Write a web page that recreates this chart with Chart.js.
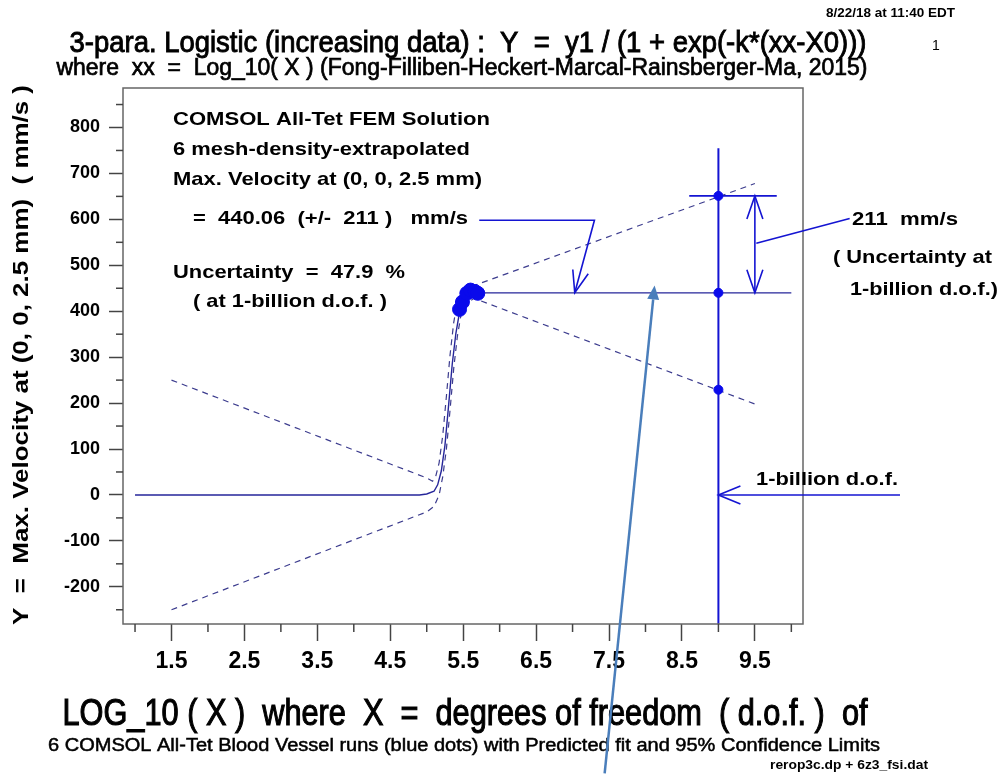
<!DOCTYPE html>
<html>
<head>
<meta charset="utf-8">
<title>3-para. Logistic fit</title>
<script src="https://cdn.jsdelivr.net/npm/chart.js@4.4.1/dist/chart.umd.min.js"></script>
<style>
  html, body { margin: 0; padding: 0; background: #fff; }
  #wrap { width: 1000px; height: 774px; }
</style>
</head>
<body>
<div id="wrap"><canvas id="grafico" width="1000" height="774"></canvas></div>
<script>
// six COMSOL runs: log10(d.o.f.) and max velocity (mm/s)
const runsLogDof = [5.45, 5.49, 5.55, 5.60, 5.66, 5.70];
const runsVel = [404, 420, 439, 446, 443, 439];

// fitted logistic curve
const fitX = [1.0, 4.9, 5.0, 5.1, 5.15, 5.2, 5.25, 5.3, 5.35, 5.4, 5.45, 5.5, 5.6, 5.7, 10.0];
const fitY = [0, 0, 2, 8, 22, 52, 108, 195, 285, 352, 398, 422, 436, 440, 440];

// 95% confidence limits
const upperX = [1.5, 5.0, 5.08, 5.12, 5.17, 5.22, 5.27, 5.32, 5.37, 5.42, 5.5, 5.65, 9.5];
const upperY = [250, 37, 30, 38, 70, 130, 215, 305, 375, 420, 445, 456, 678];
const lowerX = [1.5, 5.0, 5.1, 5.17, 5.22, 5.27, 5.32, 5.37, 5.42, 5.47, 5.55, 5.65, 9.5];
const lowerY = [-250, -37, -25, 0, 40, 100, 185, 275, 345, 392, 418, 428, 198];

// extrapolated value at 1-billion d.o.f.
const estimate = 440.06;
const uncertainty = 211;
const billionDof = 9;

// axes
const xRange = [0.835, 10.16];
const yRange = [-281, 886];
const xTickLabels = [1.5, 2.5, 3.5, 4.5, 5.5, 6.5, 7.5, 8.5, 9.5];
const xMinorTicks = [1, 2, 3, 4, 5, 6, 7, 8, 9, 10];
const yTickLabels = [-200, -100, 0, 100, 200, 300, 400, 500, 600, 700, 800];
const yMinorTicks = [-250, -150, -50, 50, 150, 250, 350, 450, 550, 650, 750, 850];

const NARROW = "'Liberation Sans Narrow', 'Liberation Sans', Arial, sans-serif";
const ARIAL = "'Liberation Sans', Arial, sans-serif";
const BLUE = '#1414d2';

const pts = (xs, ys) => xs.map((x, i) => ({ x: x, y: ys[i] }));

// text squeezed or stretched horizontally to a given width
function drawText(ctx, text, x, y, o) {
  ctx.save();
  ctx.font = (o.bold ? 'bold ' : '') + o.size + 'px ' + (o.family || ARIAL);
  ctx.fillStyle = '#000';
  ctx.strokeStyle = '#000';
  ctx.textBaseline = 'middle';
  ctx.textAlign = o.align || 'left';
  const sx = o.width ? o.width / ctx.measureText(text).width : 1;
  ctx.translate(x, y);
  if (o.rotate) ctx.rotate(o.rotate);
  ctx.scale(sx, 1);
  ctx.fillText(text, 0, 0);
  if (o.heavy) {
    ctx.lineWidth = o.heavy;
    ctx.strokeText(text, 0, 0);
  }
  ctx.restore();
}

function openHead(ctx, tx, ty, fx, fy, len, half) {
  const a = Math.atan2(ty - fy, tx - fx);
  const bx = tx - len * Math.cos(a), by = ty - len * Math.sin(a);
  const nx = -Math.sin(a) * half, ny = Math.cos(a) * half;
  ctx.beginPath();
  ctx.moveTo(bx + nx, by + ny);
  ctx.lineTo(tx, ty);
  ctx.lineTo(bx - nx, by - ny);
  ctx.stroke();
}

function line(ctx, coords) {
  ctx.beginPath();
  coords.forEach((c, i) => i ? ctx.lineTo(c[0], c[1]) : ctx.moveTo(c[0], c[1]));
  ctx.stroke();
}

const extras = {
  id: 'extras',
  afterDraw(chart) {
    const ctx = chart.ctx;
    const xs = chart.scales.x, ys = chart.scales.y;
    const a = chart.chartArea;
    const px = v => xs.getPixelForValue(v);
    const py = v => ys.getPixelForValue(v);

    // frame
    ctx.save();
    ctx.strokeStyle = '#666';
    ctx.lineWidth = 1.5;
    ctx.strokeRect(a.left, a.top, a.right - a.left, a.bottom - a.top);

    // minor ticks
    ctx.strokeStyle = '#444';
    ctx.lineWidth = 1.5;
    xMinorTicks.forEach(v => line(ctx, [[px(v), a.bottom], [px(v), a.bottom + 8]]));
    yMinorTicks.forEach(v => line(ctx, [[a.left - 7, py(v)], [a.left, py(v)]]));

    // arrows and leaders
    ctx.strokeStyle = BLUE;
    ctx.lineWidth = 1.6;
    const hi = estimate + uncertainty;
    line(ctx, [[px(5.72), py(598)], [px(7.30), py(598)], [px(7.03), py(estimate)]]);
    openHead(ctx, px(7.03), py(estimate), px(7.30), py(598), 22, 8);
    line(ctx, [[px(9.5), py(hi)], [px(9.5), py(estimate)]]);
    openHead(ctx, px(9.5), py(hi), px(9.5), py(estimate), 23, 8);
    openHead(ctx, px(9.5), py(estimate), px(9.5), py(hi), 23, 8);
    line(ctx, [[px(9.52), py(548)], [px(10.8), py(602)]]);
    line(ctx, [[px(11.49), py(0)], [px(billionDof), py(0)]]);
    openHead(ctx, px(billionDof), py(0), px(11.49), py(0), 22, 9);
    ctx.restore();

    // titles
    drawText(ctx, '8/22/18 at 11:40 EDT', 955, 13, { size: 13, bold: true, family: NARROW, align: 'right', width: 129 });
    drawText(ctx, '1', 936, 46, { size: 14, family: NARROW, align: 'center' });
    drawText(ctx, '3-para. Logistic (increasing data) :  Y  =  y1 / (1 + exp(-k*(xx-X0)))', 468, 44,
      { size: 29, family: NARROW, align: 'center', width: 797, heavy: 0.9 });
    drawText(ctx, 'where  xx  =  Log_10( X ) (Fong-Filliben-Heckert-Marcal-Rainsberger-Ma, 2015)', 462, 69,
      { size: 23, family: NARROW, align: 'center', width: 811, heavy: 0.7 });
    drawText(ctx, 'Y  =  Max. Velocity at (0, 0, 2.5 mm)  ( mm/s )', 22, 355,
      { size: 22, bold: true, align: 'center', width: 540, rotate: -Math.PI / 2 });
    drawText(ctx, 'LOG_10 ( X )  where  X  =  degrees of freedom  ( d.o.f. )  of', 465, 715,
      { size: 36, family: NARROW, align: 'center', width: 805, heavy: 1.1 });
    drawText(ctx, '6 COMSOL All-Tet Blood Vessel runs (blue dots) with Predicted fit and 95% Confidence Limits', 464, 746,
      { size: 18, family: NARROW, align: 'center', width: 832, heavy: 0.5 });
    drawText(ctx, 'rerop3c.dp + 6z3_fsi.dat', 928, 765, { size: 13, bold: true, family: NARROW, align: 'right', width: 158 });

    // notes inside the plot
    const note = { size: 19, bold: true };
    drawText(ctx, 'COMSOL All-Tet FEM Solution', 173, 120, Object.assign({ width: 317 }, note));
    drawText(ctx, '6 mesh-density-extrapolated', 173, 150, Object.assign({ width: 297 }, note));
    drawText(ctx, 'Max. Velocity at (0, 0, 2.5 mm)', 173, 180, Object.assign({ width: 309 }, note));
    drawText(ctx, '=  440.06  (+/-  211 )   mm/s', 193, 219, Object.assign({ width: 275 }, note));
    drawText(ctx, 'Uncertainty  =  47.9  %', 173, 273, Object.assign({ width: 232 }, note));
    drawText(ctx, '( at 1-billion d.o.f. )', 193, 302, Object.assign({ width: 194 }, note));
    drawText(ctx, '211  mm/s', 852, 220, Object.assign({ width: 106 }, note));
    drawText(ctx, '( Uncertainty at', 833, 258, Object.assign({ width: 159 }, note));
    drawText(ctx, '1-billion d.o.f.)', 850, 290, Object.assign({ width: 148 }, note));
    drawText(ctx, '1-billion d.o.f.', 756, 480, Object.assign({ width: 142 }, note));

    // pointer drawn over the plot
    const tip = [px(8.125), py(456)], tail = [px(7.44), py(-606)];
    ctx.save();
    ctx.strokeStyle = '#4a7ebb';
    ctx.fillStyle = '#4a7ebb';
    ctx.lineWidth = 2.5;
    const ang = Math.atan2(tip[1] - tail[1], tip[0] - tail[0]);
    const bx = tip[0] - 14 * Math.cos(ang), by = tip[1] - 14 * Math.sin(ang);
    line(ctx, [tail, [bx, by]]);
    ctx.beginPath();
    ctx.moveTo(tip[0], tip[1]);
    ctx.lineTo(bx - 6 * Math.sin(ang), by + 6 * Math.cos(ang));
    ctx.lineTo(bx + 6 * Math.sin(ang), by - 6 * Math.cos(ang));
    ctx.closePath();
    ctx.fill();
    ctx.restore();
  }
};

function drawChart() {
  new Chart(document.getElementById('grafico'), {
    type: 'scatter',
    data: {
      datasets: [
        {
          label: 'runs',
          data: pts(runsLogDof, runsVel),
          pointRadius: 7,
          pointBackgroundColor: '#0a0aeb',
          pointBorderColor: '#0a0aeb',
          showLine: false
        },
        {
          label: 'at 1-billion d.o.f.',
          data: pts([billionDof, billionDof, billionDof], [estimate + uncertainty, estimate, estimate - uncertainty]),
          pointRadius: 4.5,
          pointBackgroundColor: '#0a0aeb',
          pointBorderColor: '#0a0aeb',
          showLine: false
        },
        {
          label: 'fit',
          data: pts(fitX, fitY),
          showLine: true,
          borderColor: '#26269a',
          borderWidth: 1.4,
          pointRadius: 0
        },
        {
          label: 'upper 95%',
          data: pts(upperX, upperY),
          showLine: true,
          borderColor: '#3c3c8e',
          borderWidth: 1.2,
          borderDash: [6, 5],
          pointRadius: 0
        },
        {
          label: 'lower 95%',
          data: pts(lowerX, lowerY),
          showLine: true,
          borderColor: '#3c3c8e',
          borderWidth: 1.2,
          borderDash: [6, 5],
          pointRadius: 0
        },
        {
          label: '1-billion line',
          data: pts([billionDof, billionDof], [755, yRange[0]]),
          showLine: true,
          borderColor: BLUE,
          borderWidth: 2,
          pointRadius: 0
        },
        {
          label: 'upper bar',
          data: pts([8.6, 9.8], [estimate + uncertainty, estimate + uncertainty]),
          showLine: true,
          borderColor: BLUE,
          borderWidth: 1.6,
          pointRadius: 0
        }
      ]
    },
    options: {
      responsive: false,
      animation: false,
      layout: { padding: { top: 88, right: 197, left: 0, bottom: 0 } },
      plugins: { legend: { display: false }, tooltip: { enabled: false } },
      scales: {
        x: {
          type: 'linear',
          min: xRange[0],
          max: xRange[1],
          afterBuildTicks: s => { s.ticks = xTickLabels.map(v => ({ value: v })); },
          afterFit: s => { s.height = 150; },
          border: { display: false },
          grid: { drawOnChartArea: false, tickLength: 17, tickColor: '#444', tickWidth: 1.5 },
          ticks: {
            autoSkip: false,
            maxRotation: 0,
            padding: 7,
            color: '#000',
            font: { family: NARROW, size: 23, weight: 'bold' },
            callback: v => v.toFixed(1)
          }
        },
        y: {
          type: 'linear',
          min: yRange[0],
          max: yRange[1],
          afterBuildTicks: s => { s.ticks = yTickLabels.map(v => ({ value: v })); },
          afterFit: s => { s.width = 123; },
          border: { display: false },
          grid: { drawOnChartArea: false, tickLength: 14, tickColor: '#444', tickWidth: 1.5 },
          ticks: {
            padding: 9,
            color: '#000',
            font: { family: ARIAL, size: 18, weight: 'bold' },
            callback: v => String(v)
          }
        }
      }
    },
    plugins: [extras]
  });
}

// make sure the named fonts are ready before the canvas text is drawn
Promise.all([
  document.fonts.load('bold 19px "Liberation Sans"'),
  document.fonts.load('19px "Liberation Sans"'),
  document.fonts.load('19px "Liberation Sans Narrow"'),
  document.fonts.load('bold 19px "Liberation Sans Narrow"')
]).catch(() => {}).then(drawChart);
</script>
</body>
</html>
